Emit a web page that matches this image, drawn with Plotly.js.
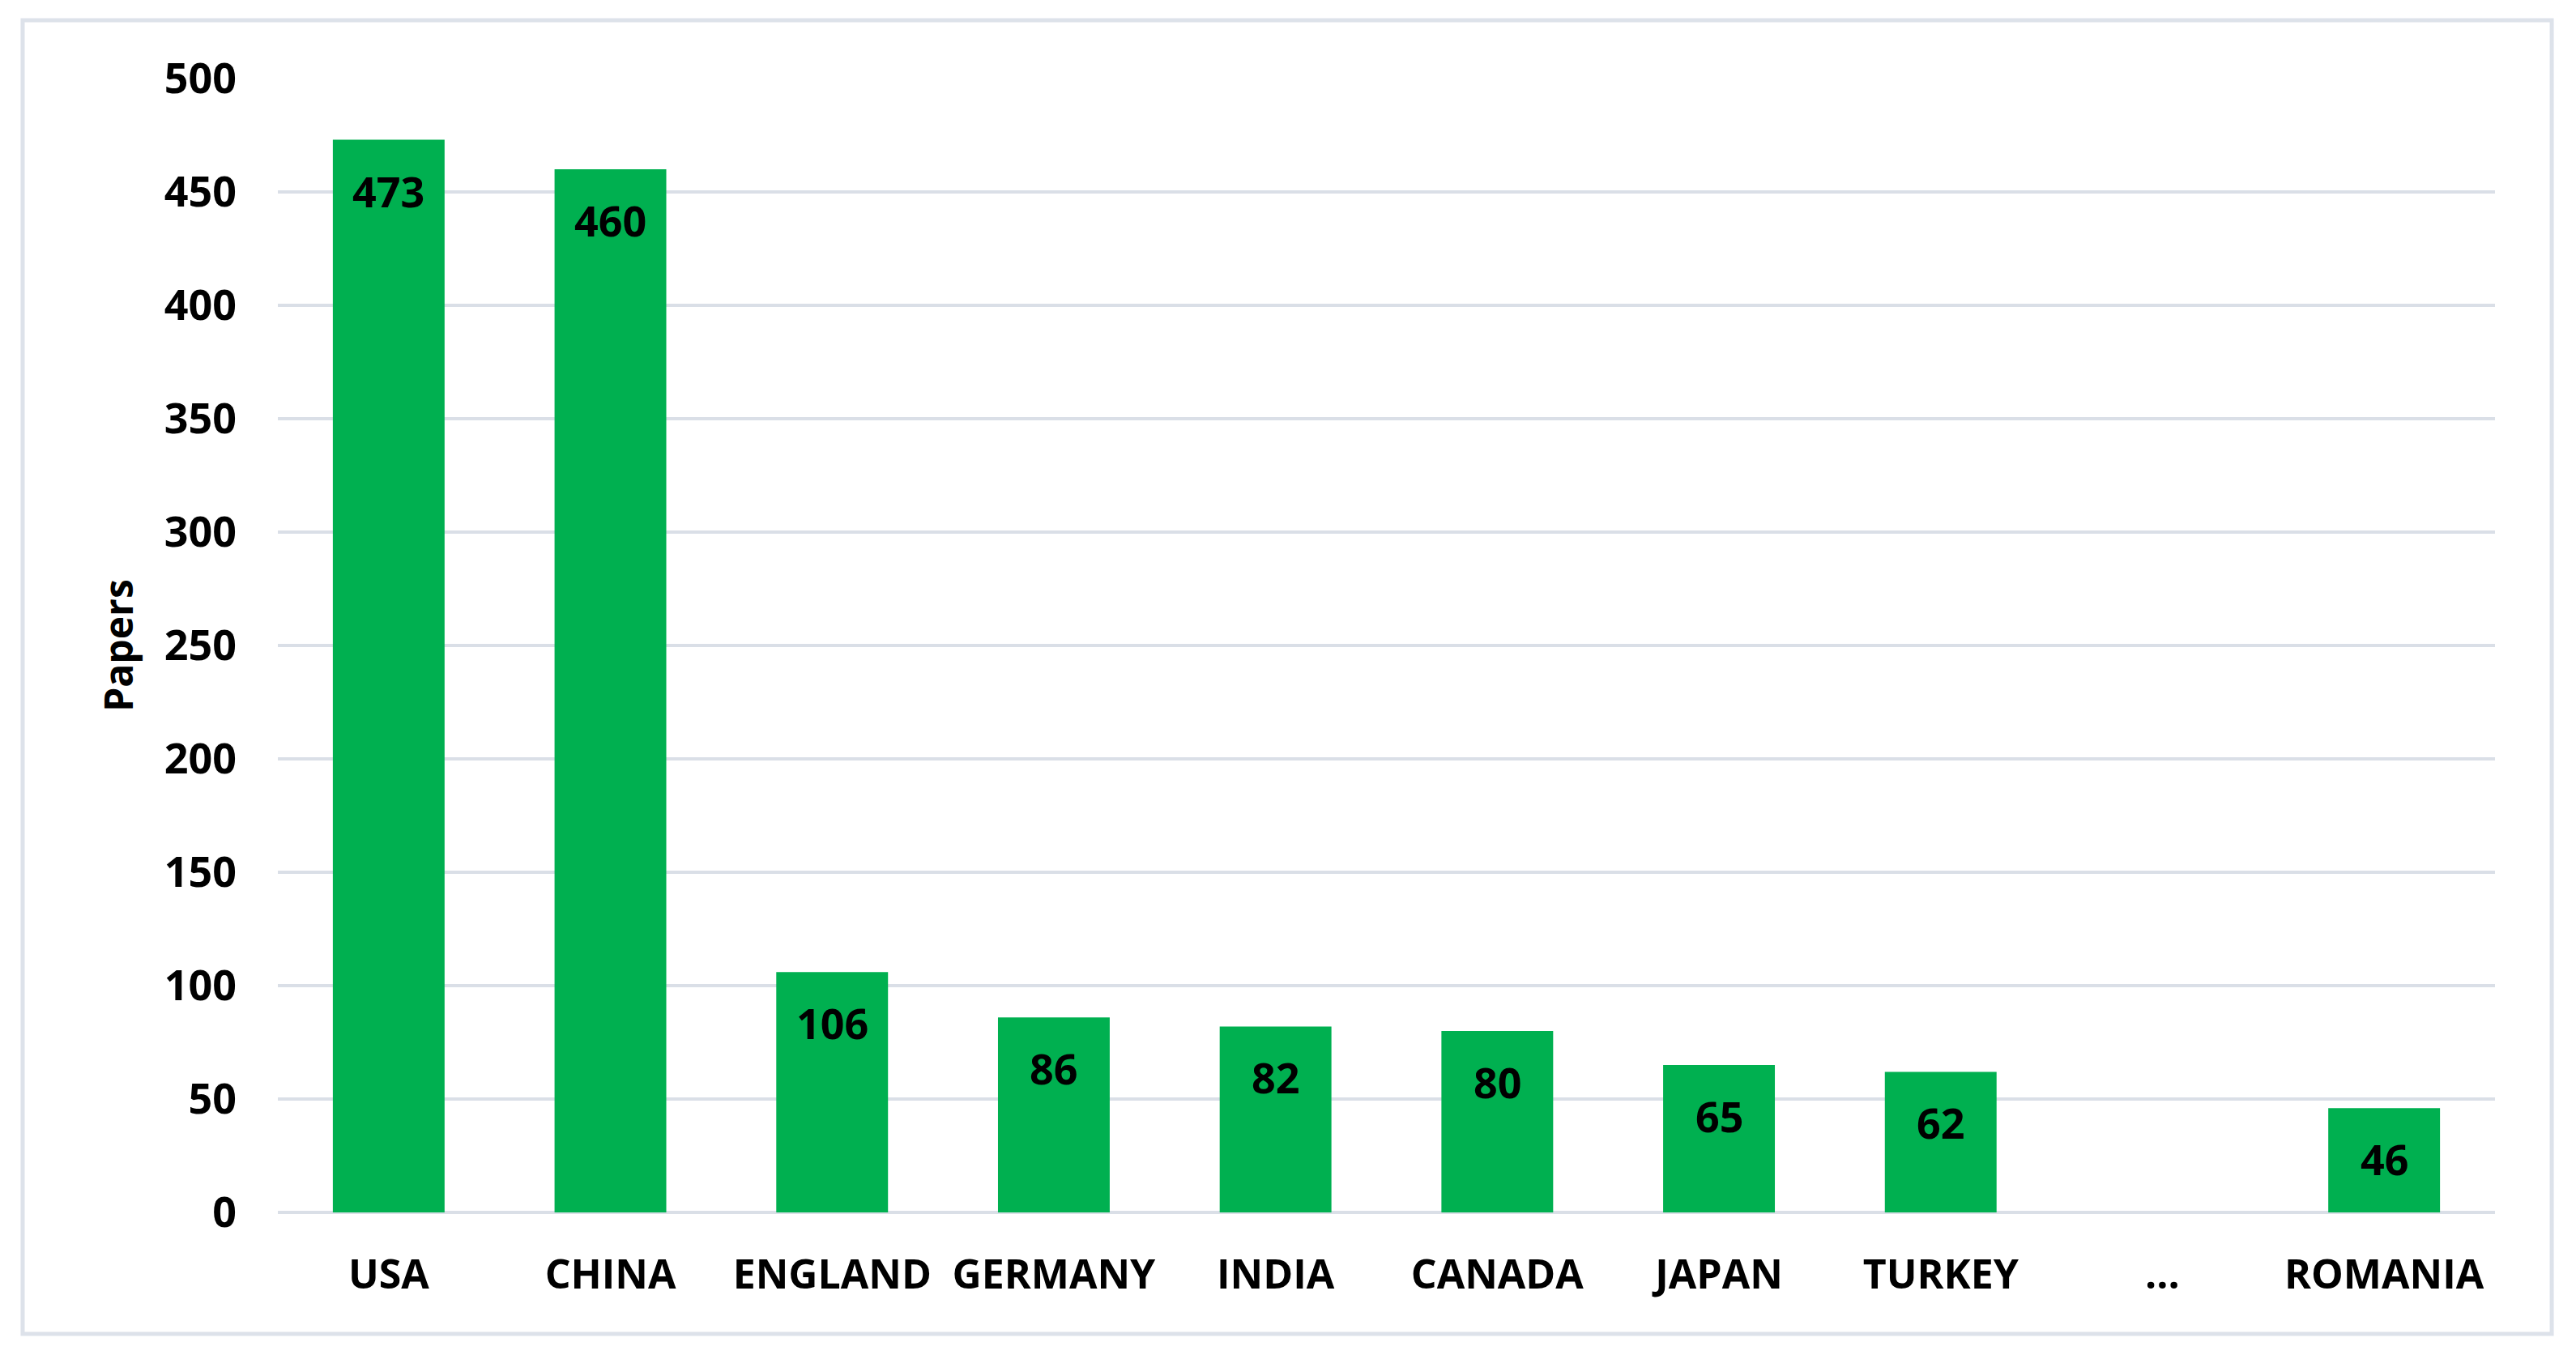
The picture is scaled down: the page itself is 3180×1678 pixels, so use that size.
<!DOCTYPE html>
<html>
<head>
<meta charset="utf-8">
<script src="https://cdn.plot.ly/plotly-3.0.1.min.js"></script>
<style>
  html, body { margin: 0; padding: 0; background: #ffffff; }
  #chart { width: 3180px; height: 1678px; }
</style>
</head>
<body>
<div id="chart"></div>
<script>
const countries = ["USA", "CHINA", "ENGLAND", "GERMANY", "INDIA", "CANADA", "JAPAN", "TURKEY", "...", "ROMANIA"];
const papers = [473, 460, 106, 86, 82, 80, 65, 62, null, 46];
const yTicks = [0, 50, 100, 150, 200, 250, 300, 350, 400, 450, 500];

const FONT = "Open Sans, Lato, Liberation Sans, sans-serif";
const GREEN = "#00B050";

const trace = {
  type: "bar",
  x: countries,
  y: papers,
  marker: { color: GREEN, line: { width: 0 } },
  hoverinfo: "x+y",
  cliponaxis: false
};

const annotations = [];
countries.forEach((c, i) => {
  if (papers[i] === null) return;
  annotations.push({
    x: c, y: papers[i], xref: "x", yref: "y",
    text: String(papers[i]),
    showarrow: false,
    yanchor: "top",
    yshift: -25,
    font: { family: FONT, size: 52, color: "#000000", weight: 700 }
  });
});

const layout = {
  width: 3180,
  height: 1678,
  paper_bgcolor: "#ffffff",
  plot_bgcolor: "#ffffff",
  margin: { l: 343, r: 100, t: 97, b: 181, pad: 0 },
  bargap: 0.496,
  showlegend: false,
  font: { family: FONT, color: "#000000" },
  xaxis: {
    type: "category",
    categoryorder: "array",
    categoryarray: countries,
    showgrid: false,
    zeroline: false,
    showline: false,
    ticks: "",
    ticklabelstandoff: 43,
    tickfont: { family: FONT, size: 50, color: "#000000", weight: 700 }
  },
  yaxis: {
    range: [0, 500],
    tickvals: yTicks,
    ticktext: yTicks.map(String),
    showgrid: true,
    gridcolor: "#DADFE7",
    gridwidth: 4,
    zeroline: true,
    zerolinecolor: "#DADFE7",
    zerolinewidth: 4,
    showline: false,
    ticks: "",
    ticklabelstandoff: 50,
    tickfont: { family: FONT, size: 52, color: "#000000", weight: 700 },
    title: {
      text: "Papers",
      standoff: 22,
      font: { family: FONT, size: 48, color: "#000000", weight: 700 }
    }
  },
  shapes: [{
    type: "rect",
    xref: "paper", yref: "paper",
    x0: -0.1151, x1: 1.0256,
    y0: -0.1071, y1: 1.0514,
    line: { color: "#DDE2EA", width: 5 },
    fillcolor: "rgba(0,0,0,0)",
    layer: "below"
  }],
  annotations: annotations
};

Plotly.newPlot("chart", [trace], layout, { displayModeBar: false, staticPlot: true });
</script>
</body>
</html>
